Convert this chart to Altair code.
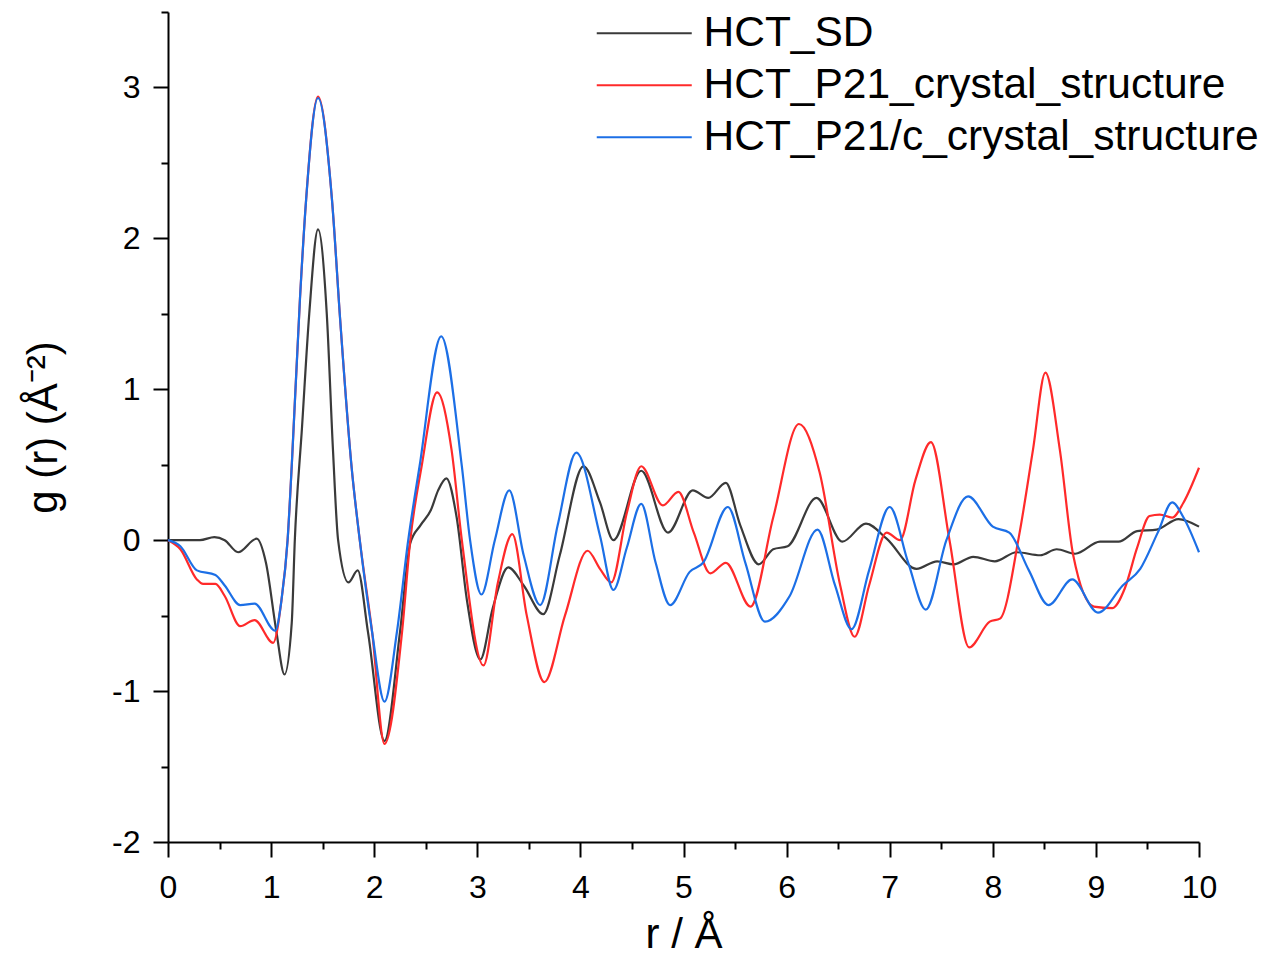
import altair as alt
import pandas as pd

# HCT_SD
sd_r = [0.00, 0.31, 0.45, 0.55, 0.68, 0.86, 0.95, 1.05, 1.13, 1.20, 1.23, 1.30, 1.37, 1.455, 1.54, 1.60, 1.65,
        1.75, 1.84, 1.94, 2.10, 2.25, 2.35, 2.45, 2.55, 2.62, 2.70, 2.80, 2.90, 3.03, 3.15, 3.30, 3.45, 3.64, 3.80, 4.03, 4.19,
        4.32, 4.59, 4.85, 5.09, 5.24, 5.41, 5.55, 5.73, 5.87, 6.01, 6.29, 6.54, 6.77, 6.97, 7.26, 7.46, 7.62, 7.81, 8.02,
        8.23, 8.46, 8.62, 8.80, 9.04, 9.22, 9.40, 9.59, 9.80, 10.0]
sd_g = [0.00, 0.00, 0.02, 0.00, -0.08, 0.01, -0.15, -0.60, -0.89, -0.55, 0.00, 0.75, 1.50, 2.06, 1.50, 0.60, 0.00,
        -0.28, -0.20, -0.61, -1.33, -0.61, -0.02, 0.10, 0.20, 0.33, 0.41, 0.15, -0.40, -0.79, -0.45, -0.18, -0.30, -0.49, -0.10, 0.49, 0.25,
        0.00, 0.46, 0.05, 0.33, 0.28, 0.38, 0.10, -0.16, -0.06, -0.04, 0.28, -0.01, 0.11, 0.01, -0.19, -0.14, -0.16, -0.11, -0.14,
        -0.08, -0.10, -0.06, -0.09, -0.01, -0.01, 0.06, 0.07, 0.14, 0.09]

# HCT_P21_crystal_structure
p21_r = [0.00, 0.12, 0.28, 0.34, 0.46, 0.55, 0.70, 0.84, 1.02, 1.10, 1.16, 1.20, 1.28, 1.34, 1.455, 1.59, 1.67, 1.78, 1.86,
         1.98, 2.10, 2.27, 2.35, 2.46, 2.61, 2.75, 2.85, 3.06, 3.20, 3.34, 3.48, 3.65, 3.85, 4.07, 4.19, 4.30, 4.45, 4.59,
         4.80, 4.95, 5.10, 5.26, 5.41, 5.65, 5.87, 6.12, 6.32, 6.52, 6.66, 6.80, 6.97, 7.10, 7.25, 7.40, 7.58, 7.77, 7.97,
         8.07, 8.26, 8.39, 8.51, 8.65, 8.78, 8.98, 9.16, 9.28, 9.40, 9.52, 9.62, 9.74, 9.85, 10.0]
p21_g = [0.00, -0.06, -0.26, -0.29, -0.29, -0.37, -0.57, -0.53, -0.68, -0.40, 0.00, 0.49, 1.60, 2.26, 2.94, 2.26, 1.46, 0.49, 0.00,
         -0.61, -1.35, -0.61, 0.00, 0.49, 0.98, 0.60, 0.00, -0.83, -0.28, 0.04, -0.50, -0.94, -0.50, -0.07, -0.19, -0.28, 0.18, 0.49,
         0.23, 0.32, 0.05, -0.22, -0.15, -0.44, 0.15, 0.77, 0.45, -0.30, -0.64, -0.30, 0.05, 0.00, 0.40, 0.65, 0.00, -0.71, -0.54,
         -0.52, 0.05, 0.60, 1.11, 0.60, -0.10, -0.44, -0.45, -0.32, -0.05, 0.16, 0.17, 0.15, 0.25, 0.48]

# HCT_P21/c_crystal_structure
p21c_r = [0.00, 0.12, 0.28, 0.46, 0.55, 0.70, 0.84, 1.04, 1.10, 1.16, 1.20, 1.28, 1.34, 1.455, 1.59, 1.67, 1.78, 1.86,
          1.98, 2.10, 2.22, 2.33, 2.44, 2.65, 2.85, 2.93, 3.04, 3.17, 3.31, 3.45, 3.61, 3.78, 3.96, 4.19, 4.32, 4.45, 4.59,
          4.73, 4.87, 5.06, 5.19, 5.43, 5.60, 5.79, 6.03, 6.30, 6.47, 6.63, 6.80, 7.00, 7.18, 7.35, 7.55, 7.76, 8.00, 8.16,
          8.35, 8.54, 8.77, 9.02, 9.26, 9.43, 9.60, 9.74, 9.85, 10.0]
p21c_g = [0.00, -0.04, -0.20, -0.23, -0.30, -0.43, -0.42, -0.60, -0.40, 0.00, 0.49, 1.60, 2.26, 2.93, 2.26, 1.46, 0.49, 0.00,
          -0.61, -1.07, -0.61, 0.00, 0.49, 1.35, 0.49, 0.00, -0.36, 0.00, 0.33, -0.10, -0.43, 0.10, 0.58, 0.03, -0.33, -0.05, 0.24,
          -0.15, -0.43, -0.21, -0.15, 0.22, -0.15, -0.54, -0.37, 0.07, -0.30, -0.59, -0.20, 0.22, -0.15, -0.46, 0.00, 0.29, 0.09, 0.05,
          -0.20, -0.43, -0.26, -0.48, -0.30, -0.19, 0.05, 0.25, 0.15, -0.08]

names = ["HCT_SD", "HCT_P21_crystal_structure", "HCT_P21/c_crystal_structure"]
colors = ["#3a3a3a", "#ff2a2a", "#1c6fe6"]

frames = []
for i, (n, rs, gs) in enumerate(zip(names, [sd_r, p21_r, p21c_r], [sd_g, p21_g, p21c_g])):
    frames.append(pd.DataFrame({"r": rs, "g": gs, "series": n, "order": i}))
df = pd.concat(frames, ignore_index=True)

x_ticks = [i * 0.5 for i in range(0, 21)]
y_ticks = [-2 + i * 0.5 for i in range(0, 12)]

FONT = "Liberation Sans"

chart = alt.Chart(df).mark_line(strokeWidth=2.2, interpolate="monotone").encode(
    x=alt.X("r:Q", scale=alt.Scale(domain=[0, 10], nice=False, zero=False),
            axis=alt.Axis(title="r / Å", values=x_ticks, grid=False, labelFlush=False,
                          labelExpr="datum.value % 1 == 0 ? '' + datum.value : ''",
                          tickSize={"condition": {"test": "datum.value % 1 == 0", "value": 15}, "value": 7},
                          labelPadding=15, titlePadding=11)),
    y=alt.Y("g:Q", scale=alt.Scale(domain=[-2, 3.5], nice=False, zero=False),
            axis=alt.Axis(title="g (r) (Å⁻²)", values=y_ticks, grid=False, labelFlush=False,
                          labelExpr="datum.value % 1 == 0 ? '' + datum.value : ''",
                          tickSize={"condition": {"test": "datum.value % 1 == 0", "value": 15}, "value": 7},
                          labelPadding=13, titlePadding=46)),
    color=alt.Color("series:N", scale=alt.Scale(domain=names, range=colors),
                    legend=alt.Legend(title=None, orient="none", legendX=455, legendY=0, padding=0,
                                      symbolType="M-5,0H5", symbolSize=361, symbolStrokeWidth=2.2,
                                      labelFontSize=42.5, labelFont=FONT, labelColor="black",
                                      rowPadding=9, labelOffset=38, labelLimit=700)),
    detail="order:O",
).properties(
    width=1031, height=830,
    autosize=alt.AutoSizeParams(type="none"),
    padding={"left": 160, "top": 4, "right": 66, "bottom": 116},
).configure_view(stroke=None).configure_axis(
    domainColor="black", domainWidth=2, tickColor="black", tickWidth=2,
    labelFont=FONT, labelFontSize=32, labelColor="black",
    titleFont=FONT, titleFontSize=42, titleFontWeight="normal", titleColor="black",
)

chart.save("out.html", embed_options={"renderer": "svg", "actions": False})
